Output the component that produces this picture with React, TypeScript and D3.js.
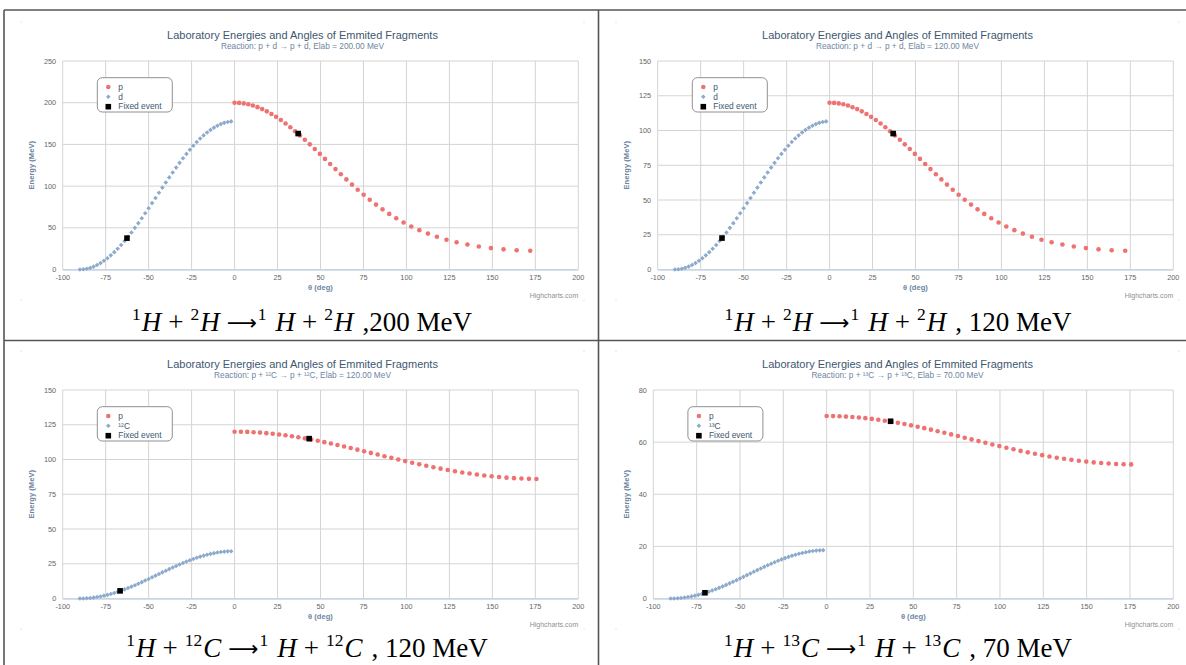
import React from "react";
import * as d3 from "d3";

// ---------- data ----------
const xTickValues = [-100, -75, -50, -25, 0, 25, 50, 75, 100, 125, 150, 175, 200];
const yTicksPd200 = [0, 50, 100, 150, 200, 250];
const yTicksPd120 = [0, 25, 50, 75, 100, 125, 150];
const yTicksC12 = [0, 25, 50, 75, 100, 125, 150];
const yTicksC13 = [0, 20, 40, 60, 80];

// recoil fragment lab angles (plotted as negative)
const recoilTheta = [-90, -88, -86, -84, -82, -80, -78, -76, -74, -72, -70, -68, -66, -64, -62, -60, -58, -56, -54, -52, -50, -48, -46, -44, -42, -40, -38, -36, -34, -32, -30, -28, -26, -24, -22, -20, -18, -16, -14, -12, -10, -8, -6, -4, -2];

// p + d
const pdProtonTheta = [0, 2.67, 5.34, 8.01, 10.68, 13.36, 16.05, 18.75, 21.46, 24.18, 26.92, 29.67, 32.44, 35.23, 38.05, 40.89, 43.77, 46.67, 49.62, 52.6, 55.63, 58.71, 61.84, 65.05, 68.32, 71.66, 75.1, 78.64, 82.3, 86.08, 90, 94.08, 98.35, 102.82, 107.52, 112.49, 117.73, 123.3, 129.2, 135.48, 142.12, 149.14, 156.5, 164.15, 172.02];
const pd200ProtonE = [200, 199.78, 199.14, 198.06, 196.56, 194.64, 192.32, 189.6, 186.49, 183.02, 179.2, 175.05, 170.59, 165.84, 160.82, 155.56, 150.08, 144.41, 138.58, 132.62, 126.55, 120.4, 114.21, 108.01, 101.82, 95.68, 89.61, 83.64, 77.81, 72.14, 66.67, 61.41, 56.39, 51.63, 47.17, 43.02, 39.2, 35.73, 32.63, 29.91, 27.58, 25.67, 24.16, 23.09, 22.44];
const pd200DeuteronE = [0, 0.22, 0.87, 1.94, 3.44, 5.36, 7.69, 10.41, 13.51, 16.98, 20.8, 24.95, 29.41, 34.17, 39.19, 44.45, 49.93, 55.6, 61.43, 67.39, 73.46, 79.61, 85.8, 92.0, 98.19, 104.34, 110.41, 116.37, 122.2, 127.87, 133.35, 138.61, 143.63, 148.39, 152.85, 157.0, 160.82, 164.29, 167.39, 170.11, 172.44, 174.36, 175.86, 176.93, 177.58];
const pd120ProtonE = [120, 119.87, 119.48, 118.84, 117.94, 116.78, 115.39, 113.76, 111.89, 109.81, 107.52, 105.03, 102.35, 99.5, 96.49, 93.33, 90.05, 86.65, 83.15, 79.57, 75.93, 72.24, 68.53, 64.81, 61.09, 57.41, 53.77, 50.18, 46.69, 43.28, 40.0, 36.85, 33.83, 30.98, 28.3, 25.81, 23.52, 21.44, 19.58, 17.95, 16.55, 15.4, 14.5, 13.85, 13.46];
const pd120DeuteronE = [0, 0.13, 0.52, 1.17, 2.07, 3.22, 4.61, 6.25, 8.11, 10.19, 12.48, 14.97, 17.65, 20.5, 23.52, 26.67, 29.96, 33.36, 36.86, 40.44, 44.08, 47.77, 51.48, 55.2, 58.91, 62.6, 66.25, 69.82, 73.32, 76.72, 80.01, 83.17, 86.18, 89.03, 91.71, 94.2, 96.49, 98.57, 100.44, 102.06, 103.46, 104.62, 105.52, 106.16, 106.55];

// p + 12C, 120 MeV
const c12ProtonTheta = [0, 3.69, 7.39, 11.08, 14.78, 18.49, 22.19, 25.91, 29.64, 33.37, 37.12, 40.87, 44.64, 48.42, 52.22, 56.04, 59.87, 63.71, 67.58, 71.47, 75.38, 79.3, 83.25, 87.23, 91.22, 95.24, 99.28, 103.35, 107.44, 111.55, 115.69, 119.86, 124.04, 128.25, 132.48, 136.72, 140.99, 145.28, 149.58, 153.9, 158.23, 162.57, 166.92, 171.28, 175.64];
const c12ProtonE = [120.0, 119.96, 119.84, 119.63, 119.34, 118.97, 118.53, 118.01, 117.41, 116.75, 116.01, 115.22, 114.36, 113.45, 112.49, 111.48, 110.43, 109.34, 108.23, 107.08, 105.92, 104.74, 103.56, 102.37, 101.18, 100.0, 98.84, 97.69, 96.58, 95.49, 94.44, 93.43, 92.47, 91.56, 90.7, 89.91, 89.17, 88.51, 87.91, 87.39, 86.95, 86.58, 86.29, 86.09, 85.96];
const c12RecoilE = [0, 0.04, 0.17, 0.37, 0.66, 1.03, 1.47, 1.99, 2.59, 3.25, 3.99, 4.78, 5.64, 6.55, 7.51, 8.52, 9.57, 10.66, 11.77, 12.92, 14.08, 15.26, 16.45, 17.63, 18.82, 20.0, 21.16, 22.31, 23.42, 24.51, 25.56, 26.57, 27.53, 28.44, 29.3, 30.09, 30.83, 31.49, 32.09, 32.61, 33.05, 33.42, 33.71, 33.91, 34.04];

// p + 13C, 70 MeV
const c13ProtonTheta = [0, 3.72, 7.43, 11.15, 14.87, 18.6, 22.33, 26.06, 29.81, 33.56, 37.33, 41.1, 44.89, 48.69, 52.5, 56.33, 60.17, 64.03, 67.91, 71.81, 75.73, 79.66, 83.62, 87.59, 91.59, 95.61, 99.65, 103.71, 107.8, 111.91, 116.04, 120.19, 124.36, 128.55, 132.76, 136.99, 141.24, 145.51, 149.78, 154.07, 158.38, 162.69, 167.01, 171.34, 175.67];
const c13ProtonE = [70.0, 69.98, 69.91, 69.8, 69.64, 69.44, 69.2, 68.91, 68.59, 68.23, 67.83, 67.39, 66.93, 66.43, 65.91, 65.36, 64.78, 64.19, 63.58, 62.96, 62.33, 61.68, 61.04, 60.39, 59.74, 59.1, 58.47, 57.84, 57.24, 56.64, 56.07, 55.52, 55.0, 54.5, 54.03, 53.6, 53.2, 52.84, 52.52, 52.23, 51.99, 51.79, 51.63, 51.52, 51.45];
const c13RecoilE = [0, 0.02, 0.09, 0.2, 0.36, 0.56, 0.8, 1.09, 1.41, 1.77, 2.17, 2.61, 3.07, 3.57, 4.09, 4.64, 5.21, 5.81, 6.42, 7.04, 7.67, 8.31, 8.96, 9.61, 10.26, 10.9, 11.53, 12.15, 12.76, 13.36, 13.93, 14.48, 15.0, 15.5, 15.96, 16.4, 16.8, 17.16, 17.48, 17.77, 18.01, 18.21, 18.37, 18.48, 18.55];

// fixed events [theta, E]
const fixedPd200 = [[37.0, 163.0], [-62.6, 37.6]];
const fixedPd120 = [[37.0, 97.8], [-62.6, 22.6]];
const fixedC12 = [[43.4, 115.0], [-66.6, 5.5]];
const fixedC13 = [[36.9, 68.0], [-70.2, 2.2]];

const chartTitle = "Laboratory Energies and Angles of Emmited Fragments";
const subtitles = [
  "Reaction: p + d \u2192 p + d, Elab = 200.00 MeV",
  "Reaction: p + d \u2192 p + d, Elab = 120.00 MeV",
  "Reaction: p + \u00B9\u00B2C \u2192 p + \u00B9\u00B2C, Elab = 120.00 MeV",
  "Reaction: p + \u00B9\u00B3C \u2192 p + \u00B9\u00B3C, Elab = 70.00 MeV",
];
const seriesNames = ["p", "d", "Fixed event"];
const recoilNames = ["d", "d", "\u00B9\u00B2C", "\u00B9\u00B3C"];
const captionMass = ["2", "2", "12", "13"];
const captionSym = ["H", "H", "C", "C"];
const captionTail = [",200 MeV", ", 120 MeV", ", 120 MeV", ", 70 MeV"];

// ---------- styling ----------
const RED = "#ef7272";
const BLUE = "#8caacb";
const SANS = "'Liberation Sans', Arial, sans-serif";
const SERIF = "'Liberation Serif', 'DejaVu Serif', serif";

const diamondType = {
  draw(ctx: any, size: number) {
    const r = Math.sqrt(size) / 2;
    ctx.moveTo(0, -r);
    ctx.lineTo(r, 0);
    ctx.lineTo(0, r);
    ctx.lineTo(-r, 0);
    ctx.closePath();
  },
};
const circlePath = d3.symbol().type(d3.symbolCircle).size(Math.PI * 2.3 * 2.3)()!;
const diamondPath = d3.symbol().type(diamondType as any).size(4.6 * 4.6)()!;
const squarePath = d3.symbol().type(d3.symbolSquare).size(5.6 * 5.6)()!;

type PanelProps = {
  idx: number;
  ox: number;
  oy: number;
  plotLeft: number;
  yTicks: number[];
  pTheta: number[];
  pE: number[];
  rE: number[];
  fixed: number[][];
};

function Panel({ idx, ox, oy, plotLeft, yTicks, pTheta, pE, rE, fixed }: PanelProps) {
  const plotRight = 578.3;
  const plotTop = 61;
  const plotBottom = 269.5;
  const x = d3.scaleLinear().domain([-100, 200]).range([plotLeft, plotRight]);
  const y = d3.scaleLinear().domain([0, yTicks[yTicks.length - 1]]).range([plotBottom, plotTop]);
  const cx = 302.5;
  return (
    <g transform={`translate(${ox},${oy})`}>
      {[[21, 22], [584, 22], [21, 300], [584, 300]].map(([a, b], i) => (
        <circle key={i} cx={a} cy={b} r={0.6} fill="#c8c8c8" />
      ))}
      <text x={cx} y={39} textAnchor="middle" fontFamily={SANS} fontSize={11} fill="#3e576f">
        {chartTitle}
      </text>
      <text x={cx} y={48.7} textAnchor="middle" fontFamily={SANS} fontSize={8.3} fill="#6d869f">
        {subtitles[idx]}
      </text>
      {yTicks.map((t) => (
        <line key={"gy" + t} x1={plotLeft} x2={plotRight} y1={y(t)} y2={y(t)} stroke="#d4d4d4" strokeWidth={1} />
      ))}
      {xTickValues.map((t) => (
        <line key={"gx" + t} x1={x(t)} x2={x(t)} y1={plotTop} y2={plotBottom} stroke="#d4d4d4" strokeWidth={1} />
      ))}
      <line x1={plotLeft} x2={plotRight} y1={plotBottom + 0.5} y2={plotBottom + 0.5} stroke="#c8d6e6" strokeWidth={1.6} />
      {yTicks.map((t) => (
        <text key={"ly" + t} x={plotLeft - 6.5} y={y(t) + 2.6} textAnchor="end" fontFamily={SANS} fontSize={7.3} fill="#666">
          {t}
        </text>
      ))}
      {xTickValues.map((t) => (
        <text key={"lx" + t} x={x(t)} y={plotBottom + 10} textAnchor="middle" fontFamily={SANS} fontSize={7.3} fill="#666">
          {t}
        </text>
      ))}
      <text
        transform={`translate(${33.8},${(plotTop + plotBottom) / 2}) rotate(-90)`}
        textAnchor="middle"
        fontFamily={SANS}
        fontSize={7.6}
        fontWeight="bold"
        fill="#6d869f"
      >
        Energy (MeV)
      </text>
      <text x={(plotLeft + plotRight) / 2} y={290.3} textAnchor="middle" fontFamily={SANS} fontSize={7.6} fontWeight="bold" fill="#6d869f">
        {"\u03B8 (deg)"}
      </text>
      <text x={578.3} y={298.3} textAnchor="end" fontFamily={SANS} fontSize={7} fill="#909090">
        Highcharts.com
      </text>
      {recoilTheta.map((t, i) => (
        <path key={"r" + i} d={diamondPath} transform={`translate(${x(t)},${y(rE[i])})`} fill={BLUE} />
      ))}
      {pTheta.map((t, i) => (
        <path key={"p" + i} d={circlePath} transform={`translate(${x(t)},${y(pE[i])})`} fill={RED} />
      ))}
      {fixed.map(([t, e], i) => (
        <path key={"f" + i} d={squarePath} transform={`translate(${x(t)},${y(e)})`} fill="#000" />
      ))}
      <g transform={`translate(${plotLeft + 34.6},77.7)`}>
        <rect x={0} y={0} width={75} height={34.3} rx={5} fill="#fff" stroke="#909090" strokeWidth={1} />
        <path d={circlePath} transform="translate(11,9.3)" fill={RED} />
        <path d={diamondPath} transform="translate(11,19)" fill={BLUE} />
        <path d={squarePath} transform="translate(11,29)" fill="#000" />
        {[seriesNames[0], recoilNames[idx], seriesNames[2]].map((n, i) => (
          <text key={n + i} x={21} y={12.2 + i * 9.7} fontFamily={SANS} fontSize={8.4} fill="#3e576f">
            {n}
          </text>
        ))}
      </g>
    </g>
  );
}

function Caption({ idx, cx, by }: { idx: number; cx: number; by: number }) {
  const fs = 27;
  const ss = 17.5;
  const up = -11;
  const A = captionMass[idx];
  const X = captionSym[idx];
  return (
    <text x={cx} y={by} textAnchor="middle" fontFamily={SERIF} fontSize={fs} fill="#000">
      <tspan fontSize={ss} dy={up}>1</tspan>
      <tspan fontStyle="italic" dy={-up} dx={1}>H</tspan>
      <tspan dx={7}>+</tspan>
      <tspan dx={7} fontSize={ss} dy={up}>{A}</tspan>
      <tspan fontStyle="italic" dy={-up} dx={1}>{X}</tspan>
      <tspan dx={7} fontFamily="'DejaVu Sans', sans-serif" fontSize={21} dy={-1}>{"\u27F6"}</tspan>
      <tspan fontSize={ss} dy={up + 1} dx={1}>1</tspan>
      <tspan dx={9} fontStyle="italic" dy={-up}>H</tspan>
      <tspan dx={7}>+</tspan>
      <tspan dx={7} fontSize={ss} dy={up}>{A}</tspan>
      <tspan fontStyle="italic" dy={-up} dx={1}>{X}</tspan>
      <tspan dx={9}>{captionTail[idx]}</tspan>
    </text>
  );
}

export default function App() {
  return (
    <svg
      width={1186}
      height={665}
      style={{ position: "absolute", left: 0, top: 0, background: "#fff" }}
      xmlns="http://www.w3.org/2000/svg"
    >
      <rect x={0} y={0} width={1186} height={665} fill="#fff" />
      <Panel idx={0} ox={0} oy={0} plotLeft={62.7} yTicks={yTicksPd200} pTheta={pdProtonTheta} pE={pd200ProtonE} rE={pd200DeuteronE} fixed={fixedPd200} />
      <Panel idx={1} ox={595} oy={0} plotLeft={62.7} yTicks={yTicksPd120} pTheta={pdProtonTheta} pE={pd120ProtonE} rE={pd120DeuteronE} fixed={fixedPd120} />
      <Panel idx={2} ox={0} oy={329} plotLeft={62.7} yTicks={yTicksC12} pTheta={c12ProtonTheta} pE={c12ProtonE} rE={c12RecoilE} fixed={fixedC12} />
      <Panel idx={3} ox={595} oy={329} plotLeft={58.3} yTicks={yTicksC13} pTheta={c13ProtonTheta} pE={c13ProtonE} rE={c13RecoilE} fixed={fixedC13} />
      <Caption idx={0} cx={302} by={331} />
      <Caption idx={1} cx={898} by={331} />
      <Caption idx={2} cx={307} by={657} />
      <Caption idx={3} cx={898} by={657} />
      <line x1={4} x2={1186} y1={10} y2={10} stroke="#555" strokeWidth={1.6} />
      <line x1={4} x2={4} y1={10} y2={665} stroke="#555" strokeWidth={1.6} />
      <line x1={598.5} x2={598.5} y1={10} y2={665} stroke="#555" strokeWidth={1.6} />
      <line x1={4} x2={1186} y1={340.5} y2={340.5} stroke="#555" strokeWidth={1.6} />
    </svg>
  );
}
